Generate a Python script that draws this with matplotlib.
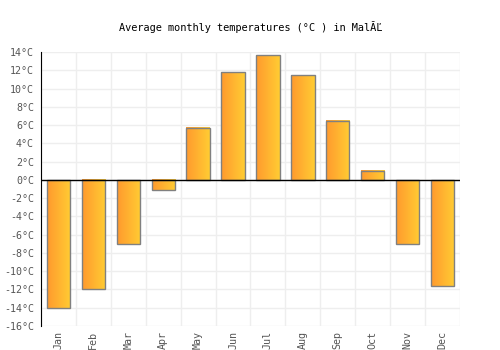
import numpy as np
import matplotlib.pyplot as plt
from matplotlib.colors import LinearSegmentedColormap

months = ["Jan", "Feb", "Mar", "Apr", "May", "Jun", "Jul", "Aug", "Sep", "Oct", "Nov", "Dec"]
temps = [-14.0, -12.0, -7.0, -1.1, 5.7, 11.8, 13.7, 11.5, 6.5, 1.0, -7.0, -11.6]
yticks = list(range(-16, 15, 2))

plt.rcParams['font.family'] = ['DejaVu Sans Mono']

fig = plt.figure(figsize=(5, 3.5), dpi=100)
ax = fig.add_axes([0.082, 0.069, 0.838, 0.782])

x = np.arange(len(months))
bars = ax.bar(x, temps, width=0.67, facecolor='none', edgecolor='#808080', linewidth=1.0, zorder=3)

cmap = LinearSegmentedColormap.from_list("o", ["#ff9a2e", "#ffcc33"])
grad = np.linspace(0, 1, 64).reshape(1, -1)
for b in bars:
    x0, y0 = b.get_x(), b.get_y()
    w, h = b.get_width(), b.get_height()
    ax.imshow(grad, cmap=cmap, aspect='auto', extent=[x0, x0 + w, y0, y0 + h],
              interpolation='bilinear', zorder=2)

ax.set_xlim(-0.5, len(months) - 0.5)
ax.set_ylim(-16, 14)
ax.set_yticks(yticks)
ax.set_yticklabels([f"{t}°C" for t in yticks])
ax.set_xticks(x)
ax.set_xticklabels(months, rotation=90)
ax.set_xticks(np.arange(-0.5, len(months), 1), minor=True)

ax.grid(True, which='minor', axis='x', color='#eeeeee', linewidth=1)
ax.grid(True, which='major', axis='y', color='#eeeeee', linewidth=1)
ax.set_axisbelow(True)
ax.axhline(0, color='black', linewidth=1, zorder=4)

for s in ['top', 'right', 'bottom']:
    ax.spines[s].set_visible(False)
ax.spines['left'].set_color('black')
ax.tick_params(axis='both', which='both', length=0, labelsize=7.2, labelcolor='#555555')
ax.tick_params(axis='x', pad=4)
ax.tick_params(axis='y', pad=5)

ax.set_title("Average monthly temperatures (°C ) in Mal\u0102\u013d", fontsize=7.4, pad=15)

fig.savefig("out.png")
